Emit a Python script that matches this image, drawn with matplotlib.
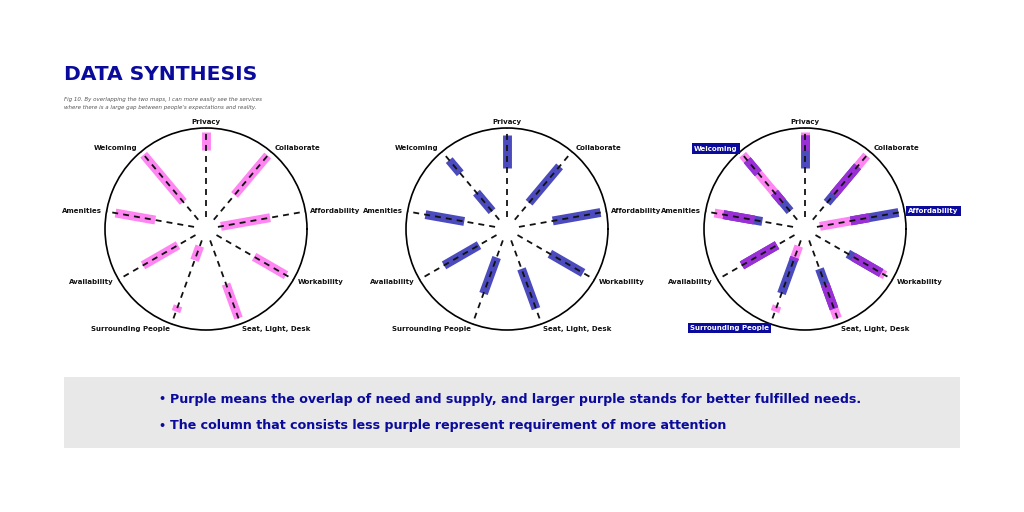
import numpy as np
import matplotlib
matplotlib.use("Agg")
import matplotlib.pyplot as plt
from matplotlib.patches import Rectangle

# ---------------- data ----------------
categories = ['Privacy', 'Collaborate', 'Affordability', 'Workability',
              'Seat, Light, Desk', 'Surrounding People', 'Availability',
              'Amenities', 'Welcoming']
# need (pink) ranges per category, normalised radius 0..1
need_ranges = [[(0.78, 0.96)], [(0.44, 0.95)], [(0.15, 0.645)], [(0.55, 0.915)],
               [(0.58, 0.94)], [(0.18, 0.33), (0.81, 0.87)], [(0.32, 0.72)],
               [(0.51, 0.91)], [(0.35, 0.96)]]
# supply (blue) ranges per category
supply_ranges = [[(0.60, 0.93)], [(0.34, 0.81)], [(0.46, 0.94)], [(0.49, 0.87)],
                 [(0.42, 0.84)], [(0.30, 0.68)], [(0.32, 0.72)],
                 [(0.43, 0.82)], [(0.23, 0.47), (0.72, 0.89)]]
highlighted = ['Welcoming', 'Affordability', 'Surrounding People']

title = 'DATA SYNTHESIS'
caption = ["Fig 10. By overlapping the two maps, I can more easily see the services",
           "where there is a large gap between people's expectations and reality."]
notes = ['Purple means the overlap of need and supply, and larger purple stands for better fulfilled needs.',
         'The column that consists less purple represent requirement of more attention']

PINK = '#ff85f2'
BLUE = '#4b4bbd'
PURPLE = '#9a2fd6'
NAVY = '#0a0a9c'

W, H = 1024, 512
fig = plt.figure(figsize=(W / 100, H / 100), dpi=100)
fig.patch.set_facecolor('white')

angles = np.deg2rad((90 - 40 * np.arange(len(categories))) % 360)


def overlaps(a, b):
    out = []
    for s1, e1 in a:
        for s2, e2 in b:
            s, e = max(s1, s2), min(e1, e2)
            if e > s:
                out.append((s, e))
    return out


def make_radar(cx, layers, highlight=()):
    cy, R = 229, 101
    ax = fig.add_axes([(cx - R) / W, (H - cy - R) / H, 2 * R / W, 2 * R / H],
                      projection='polar')
    ax.set_facecolor('none')

    for ranges_list, color in layers:
        for a, ranges in zip(angles, ranges_list):
            for s, e in ranges:
                ax.plot([a, a], [s, e], color=color, lw=6.4,
                        solid_capstyle='butt', zorder=2)
    for a in angles:
        ax.plot([a, a], [0.12, 1.0], color='#111111', lw=1.3,
                linestyle=(0, (3.3, 2.8)), zorder=4)

    ax.set_thetalim(0, 2 * np.pi)
    ax.set_ylim(0, 1)
    ax.set_yticks([])
    ax.set_xticks(angles)
    ax.set_xticklabels([''] * len(angles))
    ax.grid(False)
    ax.tick_params(axis='x', length=4, width=1.0, direction='out', color='black', pad=0)
    ax.spines['polar'].set_linewidth(1.2)

    for a, lab in zip(angles, categories):
        c, s = np.cos(a), np.sin(a)
        ha = 'left' if c > 0.1 else ('right' if c < -0.1 else 'center')
        va = 'bottom' if s > 0.95 else 'center'
        r = 1.03 if s > 0.95 else 1.05
        kw = {}
        color = '#111111'
        if lab in highlight:
            color = 'white'
            kw['bbox'] = dict(boxstyle='square,pad=0.3', fc=NAVY, ec='none')
            r = 1.04
        ax.text(a, r, lab, ha=ha, va=va, fontsize=5.0, fontweight='bold',
                color=color, family='DejaVu Sans', **kw)
    return ax


make_radar(206, [(need_ranges, PINK)])
make_radar(507, [(supply_ranges, BLUE)])
purple = [overlaps(n, s) for n, s in zip(need_ranges, supply_ranges)]
make_radar(805, [(need_ranges, PINK), (supply_ranges, BLUE), (purple, PURPLE)],
           highlight=highlighted)

# title & caption
fig.text(64 / W, 1 - 80 / H, title, fontsize=14.6, fontweight='bold', color=NAVY,
         va='baseline', ha='left', family='DejaVu Sans')
for i, line in enumerate(caption):
    fig.text(64 / W, 1 - (99 + 8 * i) / H, line, fontsize=4.0, style='italic',
             color='#555555', va='center', ha='left', family='DejaVu Sans')

# notes box
fig.patches.append(Rectangle((64 / W, (H - 448) / H), 896 / W, 71 / H,
                             transform=fig.transFigure, fc='#e8e8e8', ec='none', zorder=0))
for i, line in enumerate(notes):
    y = 1 - (399 + 27 * i) / H
    fig.text(158 / W, y, '•', fontsize=8, color=NAVY, va='center', ha='left',
             fontweight='bold')
    fig.text(170 / W, y, line, fontsize=9.1, color=NAVY, va='center', ha='left',
             fontweight='bold', family='DejaVu Sans')

fig.savefig('out.png', dpi=100)
